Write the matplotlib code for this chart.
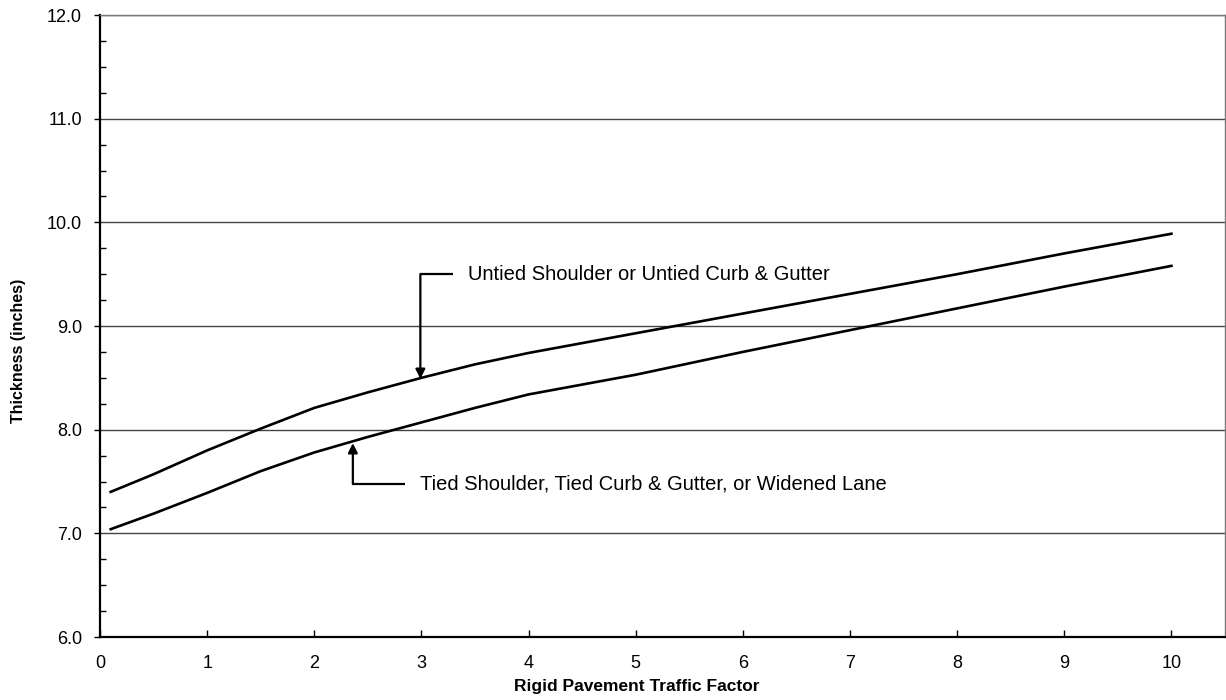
import matplotlib
matplotlib.use("Agg")
import matplotlib.pyplot as plt
from matplotlib.ticker import MultipleLocator, FormatStrFormatter

traffic_factor = [0.1, 0.5, 1.0, 1.5, 2.0, 2.5, 3.0, 3.5, 4.0, 5.0, 6.0, 7.0, 8.0, 9.0, 10.0]
untied = [7.40, 7.57, 7.80, 8.01, 8.21, 8.36, 8.50, 8.63, 8.74, 8.93, 9.12, 9.31, 9.50, 9.70, 9.89]
tied = [7.04, 7.19, 7.39, 7.60, 7.78, 7.93, 8.07, 8.21, 8.34, 8.53, 8.75, 8.96, 9.17, 9.38, 9.58]

untied_label = "Untied Shoulder or Untied Curb & Gutter"
tied_label = "Tied Shoulder, Tied Curb & Gutter, or Widened Lane"
x_title = "Rigid Pavement Traffic Factor"
y_title = "Thickness (inches)"

plt.rcParams['font.family'] = ['Liberation Sans', 'DejaVu Sans']

fig = plt.figure(figsize=(12.26, 7.0), dpi=100)
ax = fig.add_axes([100/1226, 63/700, 1125/1226, 622/700])

ax.plot(traffic_factor, untied, color='black', lw=1.9, solid_joinstyle='round')
ax.plot(traffic_factor, tied, color='black', lw=1.9, solid_joinstyle='round')

ax.set_xlim(0, 10.5)
ax.set_ylim(6.0, 12.0)
ax.xaxis.set_major_locator(MultipleLocator(1))
ax.yaxis.set_major_locator(MultipleLocator(1))
ax.yaxis.set_minor_locator(MultipleLocator(0.25))
ax.yaxis.set_major_formatter(FormatStrFormatter('%.1f'))

ax.grid(axis='y', which='major', color='#444444', lw=1.0)
ax.set_axisbelow(True)

ax.tick_params(axis='x', which='major', direction='in', length=5, width=1, labelsize=13, pad=13)
ax.tick_params(axis='y', which='major', direction='out', length=4, width=1, labelsize=13, pad=9)
ax.tick_params(axis='y', which='minor', direction='in', length=4, width=1)

for s in ['left', 'bottom']:
    ax.spines[s].set_color('black')
    ax.spines[s].set_linewidth(1.6)
for s in ['top', 'right']:
    ax.spines[s].set_color('#777777')
    ax.spines[s].set_linewidth(1.0)

ax.set_xlabel(x_title, fontsize=12.5, fontweight='bold')
ax.xaxis.set_label_coords(0.477, -0.067)
ax.set_ylabel(y_title, fontsize=11.5, fontweight='bold')
ax.yaxis.set_label_coords(-0.066, 0.46)

# Upper annotation
ax.annotate('', xy=(2.99, 8.49), xytext=(2.99, 9.5),
            arrowprops=dict(arrowstyle='-|>', color='black', lw=1.6, mutation_scale=14,
                            shrinkA=0, shrinkB=0))
ax.plot([2.99, 3.29], [9.5, 9.5], color='black', lw=1.6, solid_capstyle='butt')
ax.text(3.43, 9.5, untied_label, fontsize=14.5, va='center', ha='left')

# Lower annotation
ax.annotate('', xy=(2.36, 7.87), xytext=(2.36, 7.475),
            arrowprops=dict(arrowstyle='-|>', color='black', lw=1.6, mutation_scale=14,
                            shrinkA=0, shrinkB=0))
ax.plot([2.36, 2.85], [7.475, 7.475], color='black', lw=1.6, solid_capstyle='butt')
ax.text(2.985, 7.475, tied_label, fontsize=14.5, va='center', ha='left')

fig.savefig('out.png', dpi=100)
